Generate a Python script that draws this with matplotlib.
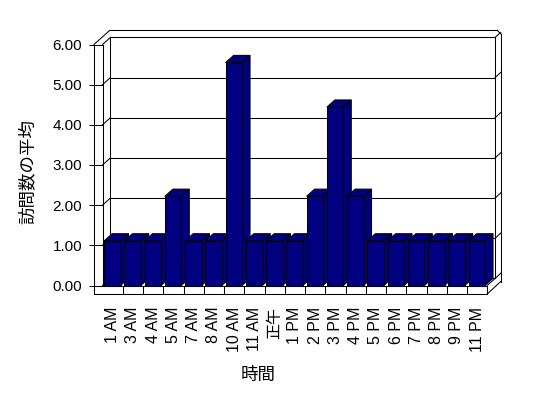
import matplotlib
matplotlib.use('Agg')
import matplotlib.pyplot as plt
from matplotlib.patches import Polygon

categories = ['1 AM', '3 AM', '4 AM', '5 AM', '7 AM', '8 AM', '10 AM', '11 AM', '正午',
              '1 PM', '2 PM', '3 PM', '4 PM', '5 PM', '6 PM', '7 PM', '8 PM', '9 PM', '11 PM']
values = [1.11, 1.11, 1.11, 2.22, 1.11, 1.11, 5.55, 1.11, 1.11,
          1.11, 2.22, 4.44, 2.22, 1.11, 1.11, 1.11, 1.11, 1.11, 1.11]
yticks = [0, 1, 2, 3, 4, 5, 6]
ylabel = '訪問数の平均'
xlabel = '時間'

FAM = ['Liberation Sans', 'Noto Sans CJK JP', 'DejaVu Sans']
CJK = ['Noto Sans CJK JP', 'DejaVu Sans']
NAVY = '#000080'
LW = 0.75

W, H = 548, 398
fig = plt.figure(figsize=(W / 100, H / 100), dpi=100)
L, R, B, T = 102.5, 487.25, 285.5, 44.5  # front plane in pixels
ax = fig.add_axes([L / W, (H - B) / H, (R - L) / W, (B - T) / H])
n = len(categories)
ymax = yticks[-1]
ax.set_xlim(0, n)
ax.set_ylim(0, ymax)
ax.patch.set_visible(False)
for s in ax.spines.values():
    s.set_visible(False)

sx = (R - L) / n
sy = (B - T) / ymax
def px2x(p):
    return p / sx
def px2y(p):
    return p / sy

DX, DY = px2x(7.9), px2y(7.1)     # wall depth
WT = px2x(8.5)                    # left wall thickness
FT = px2y(8.5)                    # floor thickness
OX = n + px2x(13.5)               # outer right edge

def line(xs, ys):
    ax.plot(xs, ys, color='black', lw=LW, clip_on=False, zorder=1,
            solid_capstyle='projecting')

# left wall / floor front
line([-WT, -WT], [-FT, ymax])
line([0, 0], [0, ymax])
line([-WT, n], [-FT, -FT])
line([0, n], [0, 0])
line([n, n], [-FT, 0])
for k in range(1, n):
    line([k, k], [-FT, 0])

# back wall
line([DX, DX], [DY, ymax + DY])
line([n + DX, n + DX], [DY, ymax + DY])
line([DX, n + DX], [ymax + DY, ymax + DY])
line([n, n + DX], [0, DY])

# gridlines
for v in yticks[:-1]:
    line([DX, n + DX], [v + DY, v + DY])
    line([0, DX], [v, v + DY])
    line([-WT, 0], [v, v])
    line([n + DX, n + DX + px2x(5.6)], [v + DY, v + DY + px2y(5.2)])

# top of walls
line([-WT, 0], [ymax, ymax])
line([0, DX], [ymax, ymax + DY])
line([-WT, -WT + 2 * DX], [ymax, ymax + 2 * DY])
line([-WT + 2 * DX, OX - px2x(3.5)], [ymax + 2 * DY, ymax + 2 * DY])
line([OX - px2x(3.5), OX], [ymax + 2 * DY, ymax + 2 * DY - px2y(3.5)])
line([OX, OX], [ymax + 2 * DY - px2y(3.5), -FT + px2y(12.5)])
line([n, OX], [-FT, -FT + px2y(12.5)])
line([n + DX, OX], [ymax + DY, ymax + DY + px2y(5)])

# bars
BW = 0.81
BO = 0.08
BDX, BDY = px2x(8.0), px2y(7.2)
for i, v in enumerate(values):
    z = 2 + i * 0.01
    x0 = i + BO
    x1 = x0 + BW
    side = Polygon([(x1, 0), (x1 + BDX, BDY), (x1 + BDX, v + BDY), (x1, v)],
                   closed=True, facecolor=NAVY, edgecolor='black', lw=LW,
                   zorder=z, clip_on=False)
    top = Polygon([(x0, v), (x1, v), (x1 + BDX, v + BDY), (x0 + BDX, v + BDY)],
                  closed=True, facecolor=NAVY, edgecolor='black', lw=LW,
                  zorder=z, clip_on=False)
    ax.add_patch(side)
    ax.add_patch(top)
    ax.bar(x0, v, width=BW, align='edge', color=NAVY, edgecolor='black',
           lw=LW, zorder=z + 0.001, clip_on=False)

# ticks
ax.set_xticks([i + 0.5 for i in range(n)])
ax.set_xticklabels(categories, rotation=90, fontsize=11.5, family=FAM)
ax.tick_params(axis='x', length=0, pad=15.2)

ax.spines['left'].set_position(('outward', 8.5 * 0.72))
ax.set_yticks(yticks)
ax.set_yticklabels(['%.2f' % t for t in yticks], fontsize=11, family=FAM)
ax.tick_params(axis='y', direction='out', length=3.6, width=LW, pad=5)

fig.text(27.5 / W, 1 - 172 / H, ylabel, rotation=90, ha='center', va='center',
         fontsize=12.6, family=CJK)
fig.text(258 / W, 1 - 375 / H, xlabel, ha='center', va='center',
         fontsize=12.6, family=CJK)

fig.savefig('out.png', dpi=100, facecolor='white')
